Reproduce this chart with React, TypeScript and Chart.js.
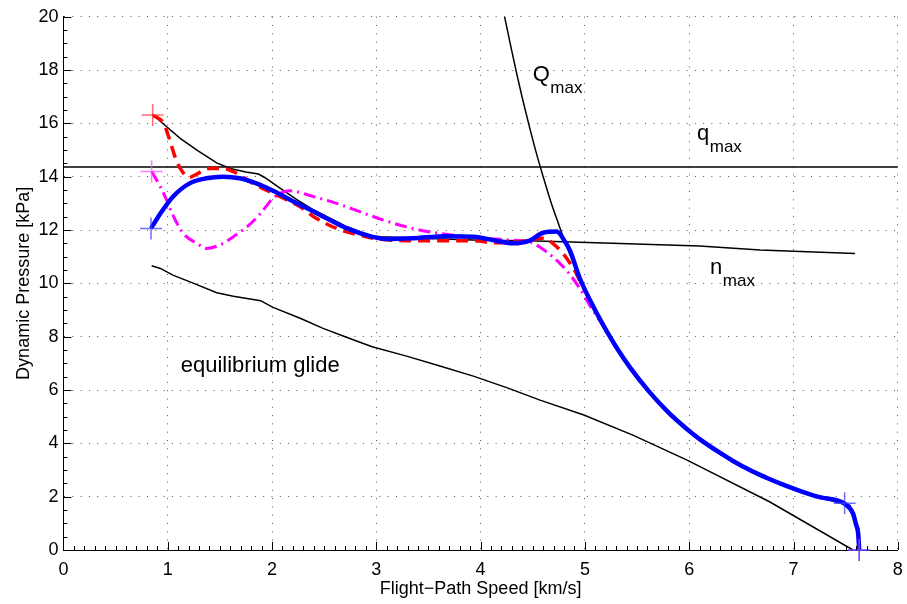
import React, { useEffect, useRef } from "react";
import { Chart, registerables } from "chart.js";
Chart.register(...registerables);

// ---- data (x: flight-path speed km/s, y: dynamic pressure kPa) ----
const blueX = [0.84, 0.93, 1.05, 1.21, 1.37, 1.53, 1.69, 1.85, 2.01, 2.24, 2.4, 2.56, 2.72, 2.94, 3.1, 3.35, 3.67, 3.93, 4.15, 4.31, 4.47, 4.6, 4.73, 4.81, 4.86, 4.95, 5.1, 5.21, 5.32, 5.43, 5.62, 5.8, 5.98, 6.1, 6.3, 6.42, 6.6, 6.74, 6.9, 7.06, 7.25, 7.49, 7.57, 7.6, 7.62, 7.63];
const blueY = [12.06, 12.62, 13.25, 13.75, 13.94, 14.0, 13.94, 13.75, 13.47, 13.0, 12.69, 12.37, 12.06, 11.77, 11.66, 11.69, 11.77, 11.75, 11.6, 11.5, 11.6, 11.9, 11.94, 11.56, 11.2, 10.2, 8.98, 8.2, 7.49, 6.86, 5.92, 5.16, 4.53, 4.16, 3.63, 3.34, 2.96, 2.71, 2.45, 2.22, 1.98, 1.74, 1.37, 0.95, 0.62, 0];

const redX = [0.856, 0.96, 1.02, 1.07, 1.12, 1.21, 1.26, 1.4, 1.53, 1.63, 1.79, 1.89, 2.08, 2.27, 2.4, 2.62, 2.88, 3.04, 3.45, 3.93, 4.15, 4.4, 4.6, 4.73, 4.79, 4.89, 4.95, 5.1, 5.21, 5.32, 5.43, 5.62, 5.8, 5.98, 6.1, 6.3, 6.42, 6.6, 6.74, 6.9, 7.06, 7.25, 7.49, 7.57, 7.6, 7.62, 7.63];
const redY = [16.31, 16.0, 15.37, 14.75, 14.31, 13.97, 14.06, 14.31, 14.31, 14.19, 13.81, 13.6, 13.25, 12.87, 12.5, 12.06, 11.77, 11.65, 11.6, 11.6, 11.52, 11.58, 11.69, 11.37, 11.12, 10.56, 10.12, 8.98, 8.2, 7.49, 6.86, 5.92, 5.16, 4.53, 4.16, 3.63, 3.34, 2.96, 2.71, 2.45, 2.22, 1.98, 1.74, 1.37, 0.95, 0.62, 0];

const magentaX = [0.846, 0.93, 0.99, 1.05, 1.15, 1.28, 1.37, 1.5, 1.63, 1.76, 1.89, 2.01, 2.17, 2.4, 2.62, 2.84, 3.07, 3.35, 3.61, 3.87, 4.15, 4.38, 4.47, 4.63, 4.76, 4.86, 4.95, 5.05, 5.21, 5.32, 5.43, 5.62, 5.8, 5.98, 6.1, 6.3, 6.42, 6.6, 6.74, 6.9, 7.06, 7.25, 7.49, 7.57, 7.6, 7.62, 7.63];
const magentaY = [14.19, 13.62, 13.12, 12.56, 11.87, 11.5, 11.31, 11.44, 11.75, 12.12, 12.62, 13.19, 13.47, 13.25, 13.0, 12.69, 12.37, 12.06, 11.87, 11.75, 11.66, 11.6, 11.56, 11.19, 10.75, 10.31, 9.81, 9.15, 8.2, 7.49, 6.86, 5.92, 5.16, 4.53, 4.16, 3.63, 3.34, 2.96, 2.71, 2.45, 2.22, 1.98, 1.74, 1.37, 0.95, 0.62, 0];

const nmaxX = [0.85, 0.97, 1.12, 1.28, 1.47, 1.6, 1.75, 1.87, 1.93, 2.08, 2.27, 2.4, 2.72, 2.94, 3.04, 3.5, 4.0, 4.47, 5.34, 6.1, 6.68, 7.59];
const nmaxY = [16.35, 15.94, 15.44, 15.0, 14.52, 14.31, 14.18, 14.1, 13.97, 13.56, 13.06, 12.75, 12.12, 11.79, 11.75, 11.68, 11.62, 11.6, 11.49, 11.4, 11.25, 11.12];

const QmaxX = [4.23, 4.29, 4.35, 4.4, 4.46, 4.53, 4.6, 4.67, 4.75, 4.81, 4.9, 5.0, 5.1, 5.21, 5.32, 5.43, 5.62, 5.8, 5.98, 6.1, 6.3, 6.42, 6.6, 6.74, 6.9, 7.06, 7.25, 7.49, 7.55];
const QmaxY = [20.0, 18.88, 17.8, 16.95, 16.0, 14.95, 14.0, 13.1, 12.2, 11.55, 10.67, 9.78, 8.98, 8.2, 7.49, 6.86, 5.92, 5.16, 4.53, 4.16, 3.63, 3.34, 2.96, 2.71, 2.45, 2.22, 1.98, 1.72, 1.66];

const qmaxX = [0, 8];
const qmaxY = [14.36, 14.36];

const glideX = [0.846, 0.93, 1.05, 1.25, 1.47, 1.63, 1.89, 2.01, 2.27, 2.49, 2.72, 2.96, 3.29, 3.61, 3.93, 4.25, 4.57, 4.99, 5.46, 5.98, 6.77, 7.57];
const glideY = [10.66, 10.56, 10.31, 10.0, 9.65, 9.52, 9.35, 9.1, 8.69, 8.31, 7.97, 7.62, 7.27, 6.9, 6.52, 6.09, 5.62, 5.06, 4.31, 3.37, 1.81, 0];

// cross markers (start / end of trajectories)
const redMarkX = [0.856];
const redMarkY = [16.31];
const magentaMarkX = [0.846, 7.63];
const magentaMarkY = [14.19, 0];
const blueMarkX = [0.84, 7.49, 7.63];
const blueMarkY = [12.06, 1.75, 0];

// annotations: main letter, subscript, anchor (data coords)
const labelMain = ["Q", "q", "n", "equilibrium glide"];
const labelSub = ["max", "max", "max", ""];
const labelX = [4.5, 6.075, 6.2, 1.125];
const labelY = [17.6, 15.37, 10.35, 6.69];

const xMin = 0, xMax = 8, xStep = 1, xMinorStep = 0.1;
const yMin = 0, yMax = 20, yStep = 2, yMinorStep = 0.5;

const FONT = '"Liberation Sans", Arial, Helvetica, sans-serif';

function pts(xs: number[], ys: number[]) {
  return xs.map((x, i) => ({ x, y: ys[i] }));
}

const labelsPlugin = {
  id: "annotLabels",
  afterDatasetsDraw(chart: any) {
    const { ctx, scales } = chart;
    ctx.save();
    ctx.fillStyle = "#000";
    ctx.textAlign = "left";
    ctx.textBaseline = "alphabetic";
    for (let i = 0; i < labelMain.length; i++) {
      const px = scales.x.getPixelForValue(labelX[i]);
      const py = scales.y.getPixelForValue(labelY[i]);
      ctx.font = `22px ${FONT}`;
      ctx.fillText(labelMain[i], px, py);
      if (labelSub[i]) {
        const w = ctx.measureText(labelMain[i]).width;
        ctx.font = `17px ${FONT}`;
        ctx.fillText(labelSub[i], px + w + 0.5, py + 12);
      }
    }
    ctx.restore();
  },
};

const ticksPlugin = {
  id: "inTicks",
  afterDraw(chart: any) {
    const { ctx, chartArea, scales } = chart;
    ctx.save();
    ctx.strokeStyle = "#000";
    ctx.lineWidth = 1;
    ctx.beginPath();
    const nx = Math.round((xMax - xMin) / xMinorStep);
    const perX = Math.round(xStep / xMinorStep);
    for (let i = 0; i <= nx; i++) {
      const v = xMin + i * xMinorStep;
      const px = Math.round(scales.x.getPixelForValue(v)) + 0.5;
      const len = i % perX === 0 ? 8 : 4;
      ctx.moveTo(px, chartArea.bottom);
      ctx.lineTo(px, chartArea.bottom - len);
    }
    const ny = Math.round((yMax - yMin) / yMinorStep);
    const perY = Math.round(yStep / yMinorStep);
    for (let i = 0; i <= ny; i++) {
      const v = yMin + i * yMinorStep;
      const py = Math.round(scales.y.getPixelForValue(v)) + 0.5;
      const len = i % perY === 0 ? 8 : 4;
      ctx.moveTo(chartArea.left, py);
      ctx.lineTo(chartArea.left + len, py);
    }
    ctx.stroke();
    ctx.restore();
  },
};

export default function App() {
  const ref = useRef<HTMLCanvasElement>(null);
  useEffect(() => {
    document.body.style.margin = "0";
    const canvas = ref.current!;
    const line = (data: any, color: string, width: number, order: number, extra: any = {}) => ({
      data,
      showLine: true,
      borderColor: color,
      backgroundColor: color,
      borderWidth: width,
      pointRadius: 0,
      pointHoverRadius: 0,
      fill: false,
      order,
      ...extra,
    });
    const marks = (data: any, color: string, order: number) => ({
      data,
      showLine: false,
      pointStyle: "cross",
      pointRadius: 11,
      pointBorderWidth: 1.5,
      borderColor: color,
      backgroundColor: color,
      order,
      clip: false,
    });
    const chart = new Chart(canvas, {
      type: "scatter",
      data: {
        datasets: [
          marks(pts(blueMarkX, blueMarkY), "rgba(60,60,255,0.75)", 0),
          marks(pts(redMarkX, redMarkY), "rgba(255,60,60,0.75)", 0),
          marks(pts(magentaMarkX, magentaMarkY), "rgba(255,80,255,0.75)", 0),
          line(pts(blueX, blueY), "#0000ff", 4.5, 1, { cubicInterpolationMode: "monotone" }),
          line(pts(redX, redY), "#ff0000", 3.5, 2, { cubicInterpolationMode: "monotone", borderDash: [12, 7] }),
          line(pts(magentaX, magentaY), "#ff00ff", 3, 3, { cubicInterpolationMode: "monotone", borderDash: [12, 5, 2, 5] }),
          line(pts(nmaxX, nmaxY), "#000", 1.5, 4, { tension: 0 }),
          line(pts(QmaxX, QmaxY), "#000", 1.5, 4, { cubicInterpolationMode: "monotone" }),
          line(pts(qmaxX, qmaxY), "#000", 1.5, 4, { tension: 0 }),
          line(pts(glideX, glideY), "#000", 1.5, 4, { tension: 0 }),
        ] as any,
      },
      options: {
        animation: false,
        responsive: false,
        devicePixelRatio: 1,
        layout: { autoPadding: false, padding: { top: 16.7, right: 9.2, left: 0, bottom: 0 } },
        plugins: { legend: { display: false }, tooltip: { enabled: false } },
        scales: {
          x: {
            type: "linear",
            min: xMin,
            max: xMax,
            afterFit(s: any) {
              s.height = 54;
              s.paddingLeft = 0;
              s.paddingRight = 0;
            },
            ticks: { stepSize: xStep, padding: 9, color: "#000", font: { family: FONT, size: 18 } },
            grid: { color: "#555", lineWidth: 1, drawTicks: false },
            border: { display: true, color: "#000", width: 1, dash: [1, 7.3] },
            title: {
              display: true,
              text: "Flight−Path Speed [km/s]",
              color: "#000",
              font: { family: FONT, size: 18 },
              padding: { top: 0, bottom: 4 },
            },
          },
          y: {
            type: "linear",
            min: yMin,
            max: yMax,
            afterFit(s: any) {
              s.width = 63.4;
              s.paddingTop = 0;
              s.paddingBottom = 0;
            },
            ticks: { stepSize: yStep, padding: 5, color: "#000", font: { family: FONT, size: 18 } },
            grid: { color: "#555", lineWidth: 1, drawTicks: false },
            border: { display: true, color: "#000", width: 1, dash: [1, 7.3] },
            title: {
              display: true,
              text: "Dynamic Pressure [kPa]",
              color: "#000",
              font: { family: FONT, size: 18 },
              padding: { top: 13, bottom: 0 },
            },
          },
        },
      } as any,
      plugins: [labelsPlugin, ticksPlugin],
    });
    return () => chart.destroy();
  }, []);
  return (
    <div style={{ width: 907, height: 604 }}>
      <canvas ref={ref} width={907} height={604} style={{ display: "block" }} />
    </div>
  );
}
